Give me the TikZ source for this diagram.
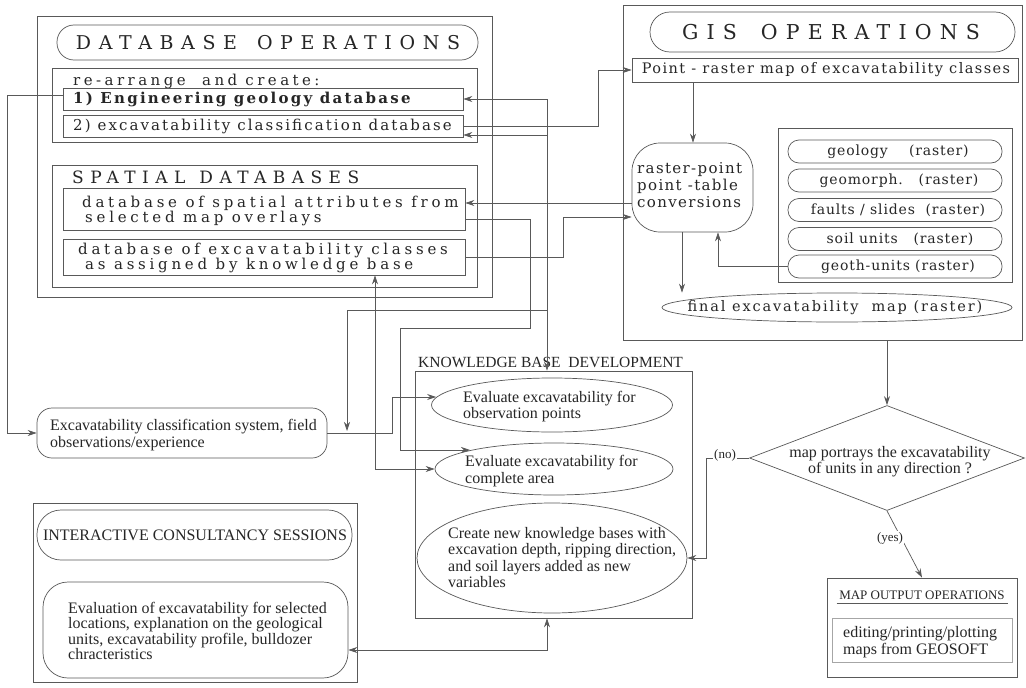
\documentclass[tikz,border=0pt]{standalone}
\usepackage{fontspec}
\setmainfont{Liberation Serif}
\newfontfamily\wideA[LetterSpace=15]{DejaVu Serif}
\newfontfamily\wideAA[LetterSpace=14]{DejaVu Serif}
\newfontfamily\wideB[LetterSpace=25]{DejaVu Serif}
\newfontfamily\wideC[LetterSpace=23]{DejaVu Serif}
\newfontfamily\wideD[LetterSpace=10]{DejaVu Serif}
\newfontfamily\wideF[LetterSpace=13]{DejaVu Serif}
\newfontfamily\wideG[LetterSpace=9]{DejaVu Serif}
\newfontfamily\wideE[LetterSpace=6]{DejaVu Serif}
\newfontfamily\titA[LetterSpace=40]{DejaVu Serif}
\newfontfamily\titB[LetterSpace=38]{DejaVu Serif}
\newfontfamily\titC[LetterSpace=40]{DejaVu Serif}
\usetikzlibrary{arrows.meta,shapes.geometric,calc}
\newcommand\fsz[2]{\fontsize{#1}{#2}\selectfont}
\begin{document}
\begin{tikzpicture}[x=1pt,y=-1pt,
  every node/.style={text=black!85},
  ln/.style={draw=black!65, line width=0.7pt},
  box/.style={ln, rectangle, inner sep=0pt},
  rbox/.style={ln, rectangle, rounded corners=#1, inner sep=0pt},
  ell/.style={ln, ellipse, inner sep=0pt},
  txt/.style={inner sep=0pt, anchor=west, align=left},
  ctxt/.style={inner sep=0pt, align=center},
  gfont/.style={font=\wideE\fsz{14}{15}},
  tfont/.style={font=\fsz{16}{16.5}},
  arr/.style={ln, -{Stealth[length=9pt,width=6pt]}},
  darr/.style={ln, {Stealth[length=9pt,width=6pt]}-{Stealth[length=9pt,width=6pt]}},
  lab/.style={fill=white, inner sep=1pt, font=\fsz{13}{14}}
]
\useasboundingbox (0,0) rectangle (1026,688);
\fill[white] (0,0) rectangle (1026,688);

% ---------- DATABASE OPERATIONS ----------
\node[box, minimum width=455pt, minimum height=281pt] (dbo) at (264.5,156.5) {};
\node[rbox=17pt, minimum width=421pt, minimum height=35pt] (dbt) at (267.5,42.5) {};
\node[ctxt, font=\titA\fsz{19}{20}] (dbtt) at (268,43) {DATABASE\hspace{20pt}OPERATIONS};
\node[box, minimum width=425pt, minimum height=74pt] (rea) at (264.5,105) {};
\node[txt, font=\wideC\fsz{15}{16}] (reat) at (73,81) {re-arrange\ \ and create:};
\node[box, minimum width=400pt, minimum height=22pt] (eng) at (263,99) {};
\node[txt, font=\wideA\bfseries\fsz{15}{16}] (engt) at (73,99) {1) Engineering geology database};
\node[box, minimum width=400pt, minimum height=22pt] (exdb) at (263,126) {};
\node[txt, font=\wideAA\fsz{15}{16}] (exdbt) at (73,126) {2) excavatability classification database};
\node[box, minimum width=425pt, minimum height=122pt] (spa) at (264.5,226) {};
\node[txt, font=\titB\fsz{17}{18}] (spat) at (72,177.5) {SPATIAL\hspace{14pt}DATABASES};
\node[box, minimum width=402pt, minimum height=42pt] (sa) at (264,209) {};
\node[txt, font=\wideB\fsz{15}{15}] (sat) at (82,210.5) {database of spatial attributes from\\\hspace{3pt}selected map overlays};
\node[box, minimum width=402pt, minimum height=36pt] (ecb) at (264,257) {};
\node[txt, font=\wideB\fsz{15}{15}] (ecbt) at (78,257.5) {database of excavatability classes\\\hspace{7pt}as assigned by knowledge base};

% ---------- GIS OPERATIONS ----------
\node[box, minimum width=399pt, minimum height=335pt] (gis) at (822.5,172.5) {};
\node[rbox=20pt, minimum width=365pt, minimum height=40pt] (gist) at (832.5,32) {};
\node[ctxt, font=\titC\fsz{20.5}{22}] (gistt) at (831,32) {GIS\hspace{24pt}OPERATIONS};
\node[box, minimum width=386pt, minimum height=24pt] (pr) at (825,70) {};
\node[ctxt, font=\wideD\fsz{14.5}{16}] (prt) at (826,70) {Point - raster map of excavatability classes};
\node[rbox=28pt, minimum width=121pt, minimum height=89pt] (rp) at (692.5,187.5) {};
\node[txt, font=\wideG\fsz{15}{17}] (rpt) at (637,185) {raster-point\\point -table\\conversions};
\node[box, minimum width=234pt, minimum height=154pt] (grp) at (895,205) {};
\node[rbox=11pt, minimum width=214pt, minimum height=23pt] (geo) at (895,151.5) {};
\node[ctxt, gfont] (geot) at (898,151.5) {geology\ \ \ \ (raster)};
\node[rbox=11pt, minimum width=214pt, minimum height=23pt] (gmo) at (895,180.5) {};
\node[ctxt, gfont] (gmot) at (899,180.5) {geomorph.\ \ \ (raster)};
\node[rbox=11pt, minimum width=214pt, minimum height=23pt] (flt) at (895,210) {};
\node[ctxt, gfont] (fltt) at (898,210) {faults / slides\ \ (raster)};
\node[rbox=11pt, minimum width=214pt, minimum height=23pt] (soil) at (895,239) {};
\node[ctxt, gfont] (soilt) at (900,239) {soil units\ \ \ (raster)};
\node[rbox=11pt, minimum width=214pt, minimum height=23pt] (gu) at (895,266.5) {};
\node[ctxt, gfont] (gut) at (898,266.5) {geoth-units (raster)};
\node[ell, minimum width=350pt, minimum height=29pt] (fm) at (837,307.5) {};
\node[ctxt, font=\wideF\fsz{14.5}{16}] (fmt) at (835,307.5) {final excavatability\ \ map (raster)};

% ---------- KNOWLEDGE BASE ----------
\node[box, minimum width=277pt, minimum height=247pt] (kb) at (553.5,494.5) {};
\node[inner sep=0pt, anchor=base west, font=\fsz{15.5}{17}] (kbt) at (418,367) {KNOWLEDGE BASE\ \ DEVELOPMENT};
\node[ell, minimum width=241pt, minimum height=54pt] (obs) at (552,405) {};
\node[txt, tfont] (obst) at (463,406.5) {Evaluate excavatability for\\observation points};
\node[ell, minimum width=238pt, minimum height=52pt] (ca) at (554,469) {};
\node[txt, tfont] (cat) at (465,471) {Evaluate excavatability for\\complete area};
\node[ell, minimum width=270pt, minimum height=110pt] (cr) at (552,558) {};
\node[txt, tfont] (crt) at (448,557.5) {Create new knowledge bases with\\excavation depth, ripping direction,\\and soil layers added as new\\variables};

% ---------- decision + output ----------
\node[ln, diamond, minimum width=275pt, minimum height=105pt, inner sep=0pt] (dia) at (887,458) {};
\node[ctxt, tfont] (diat) at (890,461.5) {map portrays the excavatability\\of units in any direction ?};
\node[box, minimum width=190pt, minimum height=99pt] (mo) at (922,627.5) {};
\node[ctxt, font=\fsz{13}{15}] (mot) at (922,595) {MAP OUTPUT OPERATIONS};
\draw[ln] (mo.west |- 0,603) ++(10,0) -- ++(171,0);
\node[box, draw=black!35, minimum width=180pt, minimum height=44pt] (moi) at (922,640) {};
\node[txt, tfont] (moit) at (843,642) {editing/printing/plotting\\maps from GEOSOFT};

% ---------- left column ----------
\node[rbox=15pt, minimum width=290pt, minimum height=50pt] (exc) at (182,433) {};
\node[txt, tfont] (exct) at (50,435) {Excavatability classification system, field\\observations/experience};
\node[box, minimum width=324pt, minimum height=179pt] (ics) at (195,592.5) {};
\node[rbox=24pt, minimum width=315pt, minimum height=50pt] (icst) at (194.5,535) {};
\node[ctxt, font=\fsz{16}{18}] (icstt) at (195,535) {INTERACTIVE CONSULTANCY SESSIONS};
\node[rbox=25pt, minimum width=305pt, minimum height=96pt] (ici) at (195.5,630) {};
\node[txt, font=\fsz{16}{15.5}] (icit) at (68,631) {Evaluation of excavatability for selected\\locations, explanation on the geological\\units, excavatability profile, bulldozer\\chracteristics};

% ---------- connectors ----------
\coordinate (j1) at (547,310);
\coordinate (j2) at (547,135);
\coordinate (j3) at (347,431);
\coordinate (catl) at (470,450);

\draw[arr] ([yshift=4pt]eng.west) -- ++(-55,0) |- (exc.west);
\draw[arr] (j1) -- (kb.north -| j1);
\draw[arr] (j1) |- (eng.east);
\draw[arr] (j2) -- (exdb.east |- j2);
\draw[arr] (j1) -| (j3);
\draw[arr] (exdb.east) -- ++(135,0) |- (pr.west);
\draw[arr] (rp.west |- 0,203) -- (sa.east |- 0,203);
\draw[arr] ([yshift=-10pt]sa.east) -- ++(65,0) -- ++(0,109) -| (catl -| 400,0) -- (catl);
\draw[arr] (ecb.east) -- ++(98,0) |- (rp.west |- 0,217);
\draw[darr] (ecb.south -| 375,0) |- (ca.west);
\draw[arr] (exc.east) -- ++(65,0) |- ([yshift=8pt,xshift=5pt]obs.west);
\draw[darr] ([yshift=-20pt]ici.east) -| (kb.south -| j1);

\draw[arr] (pr.south -| 693,0) -- (rp.north -| 693,0);
\draw[arr] (gu.west) -| (rp.south -| 718,0);
\draw[arr] (rp.south -| 682,0) -- (fm.north -| 682,0);
\draw[arr] (gis.south -| dia.north) -- (dia.north);
\draw[arr] (dia.west) -- ++(-43,0) |- (cr.east);
\node[lab] (no) at (725,455) {(no)};
\draw[arr] (dia.south) -- (mo.north);
\node[lab] (yes) at (890,538) {(yes)};
\end{tikzpicture}
\end{document}
